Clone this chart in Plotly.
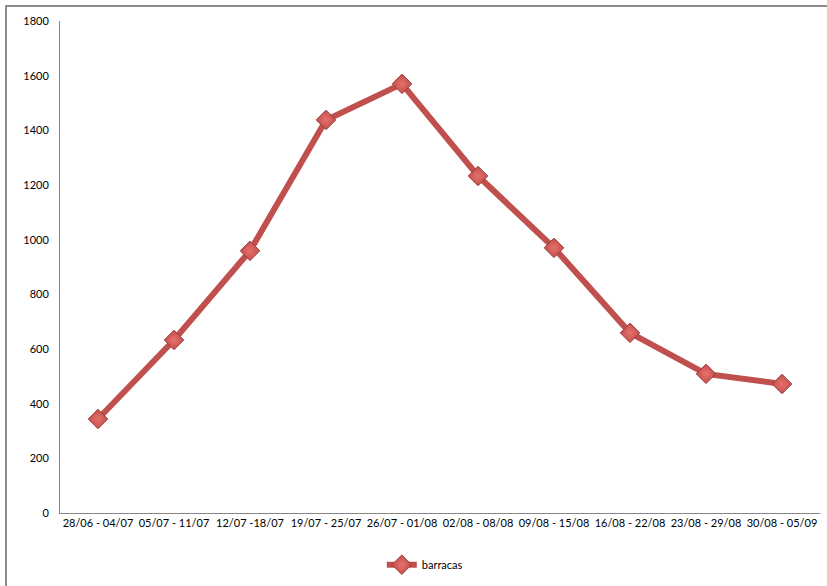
import plotly.graph_objects as go

weeks = ["28/06 - 04/07", "05/07 - 11/07", "12/07 -18/07", "19/07 - 25/07",
         "26/07 - 01/08", "02/08 - 08/08", "09/08 - 15/08", "16/08 - 22/08",
         "23/08 - 29/08", "30/08 - 05/09"]
barracas = [344, 633, 959, 1438, 1570, 1233, 970, 659, 509, 472]
y_ticks = [0, 200, 400, 600, 800, 1000, 1200, 1400, 1600, 1800]

fig = go.Figure()
fig.add_trace(go.Scatter(
    x=weeks, y=barracas, name="barracas", mode="lines+markers",
    line=dict(color="#C0504D", width=6),
    marker=dict(symbol="diamond", size=15, color="#C0504D",
                gradient=dict(type="radial", color="#E8706C"),
                line=dict(color="#9E3B38", width=1)),
))

fig.update_layout(
    width=827, height=586,
    margin=dict(l=60, r=7, t=21, b=73),
    paper_bgcolor="white", plot_bgcolor="white",
    font=dict(family="Lato, Open Sans, sans-serif", size=11, color="#000000"),
    showlegend=True,
    legend=dict(orientation="h", x=0.48, xanchor="center", y=-0.105, yanchor="middle",
                font=dict(size=11)),
    xaxis=dict(type="category", showgrid=False, showline=True, linecolor="#868686",
               linewidth=1, ticks="", tickangle=0, range=[-0.5, 9.5]),
    yaxis=dict(range=[0, 1800], tickvals=y_ticks, showgrid=False, showline=True,
               linecolor="#868686", linewidth=1, ticks="", zeroline=False,
               ticklabelstandoff=8),
    shapes=[dict(type="rect", xref="paper", yref="paper",
                 x0=-54/760, x1=1.02, y0=-0.2, y1=1 + 15/492,
                 line=dict(color="#8C8C8C", width=2), layer="below")],
)

fig.write_html("out.html")
